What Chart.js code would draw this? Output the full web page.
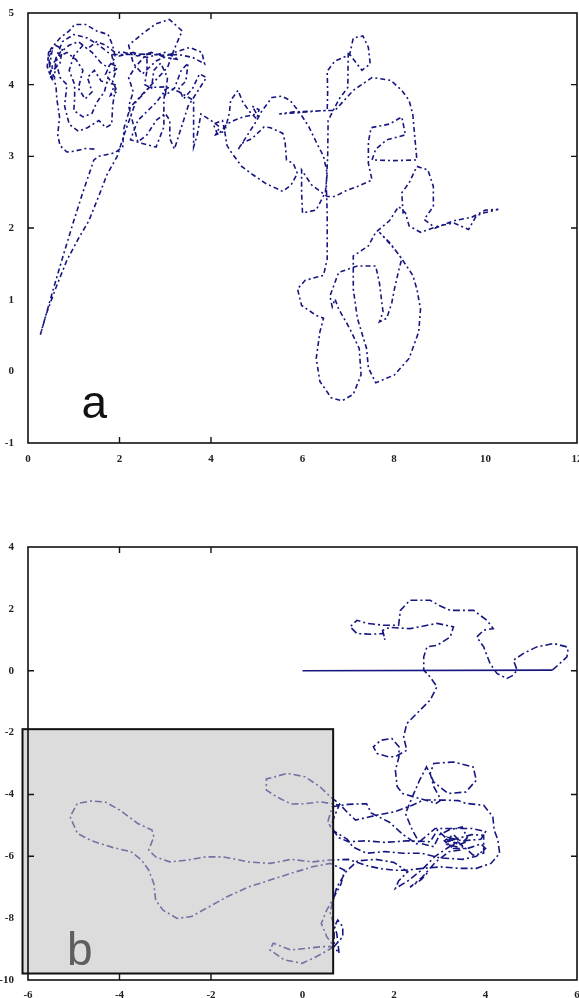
<!DOCTYPE html>
<html>
<head>
<meta charset="utf-8">
<script src="https://cdn.jsdelivr.net/npm/chart.js@4.4.0/dist/chart.umd.min.js"></script>
<style>
  body { margin: 0; background: #fff; width: 579px; height: 998px; overflow: hidden; position: relative; }
  canvas { position: absolute; left: 0; }
  #chartA { top: 0; }
  #chartB { top: 470px; }
</style>
</head>
<body>
<canvas id="chartA" width="579" height="470"></canvas>
<canvas id="chartB" width="579" height="528"></canvas>
<script>
// Tick labels
var aXTicks = [0, 2, 4, 6, 8, 10, 12];
var aYTicks = [-1, 0, 1, 2, 3, 4, 5];
var bXTicks = [-6, -4, -2, 0, 2, 4, 6];
var bYTicks = [-10, -8, -6, -4, -2, 0, 2, 4];

// inner tick marks that show up in the picture
var aXMarks = [2, 4];
var aYMarks = [2, 3, 4];
var bXMarks = [-4, -2];
var bYMarks = [-6, -4, 0];

// trajectory a (x, y)
var pathA = [
  [1.45,3.1],[1.26,3.11],[1.0,3.07],[0.85,3.06],[0.7,3.15],[0.65,3.3],[0.69,3.55],[0.63,3.8],[0.61,4.0],[0.5,4.1],
  [0.42,4.25],[0.45,4.45],[0.6,4.55],[0.75,4.5],[0.7,4.3],[0.55,4.2],[0.45,4.35],[0.5,4.5],[0.7,4.65],[0.9,4.75],
  [1.02,4.84],[1.26,4.84],[1.5,4.75],[1.75,4.7],[1.85,4.55],[1.91,4.38],[1.75,4.24],[1.6,4.3],[1.4,4.45],[1.2,4.55],
  [1.0,4.4],[0.9,4.2],[1.02,4.0],[1.02,3.8],[1.0,3.64],[1.2,3.55],[1.4,3.6],[1.5,3.75],[1.67,3.9],[1.75,4.1],
  [1.91,3.96],[1.85,3.7],[1.83,3.45],[1.7,3.4],[1.55,3.5],[1.3,3.4],[1.1,3.35],[0.9,3.45],[0.8,3.7],[0.85,4.0],
  [0.7,4.1],[0.6,4.35],[0.75,4.6],[1.0,4.7],[1.3,4.65],[1.55,4.55],[1.75,4.45],[1.83,4.42],
  [1.9,4.2],[1.7,4.15],[1.8,4.3],[1.95,4.25],[1.85,4.05],[1.95,3.9],[1.8,3.85],[1.9,4.0],[1.6,4.05],[1.45,4.2],
  [1.3,4.1],[1.4,3.9],[1.25,3.8],[1.1,3.95],[1.2,4.2],[1.05,4.35],[0.85,4.45],[0.7,4.4],[0.55,4.3],[0.48,4.15],
  [0.55,4.05],[0.47,4.25],[0.52,4.45],[0.44,4.38],[0.5,4.2],[0.58,4.1],[0.6,4.3],[0.7,4.45],[0.9,4.55],[1.1,4.6],
  [1.3,4.5],[1.5,4.6],[1.7,4.55],[1.9,4.45],[2.1,4.45],[2.4,4.4],[2.7,4.45],[3.0,4.38],[3.3,4.35],[3.0,4.45],
  [2.6,4.38],[2.3,4.45],[2.0,4.4],[1.83,4.42],
  [2.2,4.42],[2.6,4.43],
  [2.6,4.2],[2.55,4.0],[2.7,3.95],[2.75,4.2],[2.9,4.3],[3.05,4.1],[3.0,3.85],[3.2,3.95],[3.35,4.2],[3.5,4.3],
  [3.45,4.05],[3.3,3.95],[3.4,3.8],[3.6,3.95],[3.75,4.15],[3.9,4.1],[3.7,3.9],[3.5,3.7],[3.4,3.5],[3.3,3.3],
  [3.2,3.1],[3.1,3.25],[3.1,3.5],[3.0,3.6],[2.8,3.5],[2.6,3.3],[2.4,3.2],[2.3,3.45],[2.2,3.7],[2.3,3.9],
  [2.2,4.1],[2.35,4.25],[2.6,4.43],
  [2.9,4.41],[3.29,4.42],[3.6,4.38],[3.86,4.29],[3.8,4.45],[3.54,4.52],[3.2,4.45],[2.8,4.33],[2.5,4.15],[2.3,4.3],
  [2.2,4.55],[2.48,4.7],[2.8,4.85],[3.09,4.91],[3.37,4.75],[3.2,4.5],[3.05,4.24],[2.64,3.96],[2.24,3.69],[2.1,3.4],
  [2.07,3.13],[1.9,3.05],[1.55,3.0],[1.44,2.95],[1.2,2.5],[1.0,2.1],[0.8,1.68],[0.6,1.25],[0.42,0.85],[0.27,0.51],
  [0.4,0.8],[0.6,1.15],[0.85,1.55],[1.1,1.85],[1.33,2.1],[1.55,2.45],[1.73,2.75],[1.95,3.0],[2.1,3.3],[2.35,3.75],
  [2.65,3.96],[3.0,3.97],[2.97,3.78],[2.97,3.41],[2.8,3.13],[2.5,3.18],[2.24,3.23],[2.4,3.5],[2.8,3.75],[3.05,3.96],
  [3.3,3.9],[3.62,3.78],[3.62,3.45],[3.62,3.13],[3.7,3.3],[3.78,3.59],[4.0,3.5],[4.19,3.41],[4.1,3.3],[4.3,3.35],
  [4.25,3.5],[4.05,3.45],[4.15,3.3],[4.35,3.45],[4.5,3.5],[4.7,3.55],[5.0,3.59],[4.9,3.7],[5.05,3.65],[5.0,3.52],
  [4.85,3.62],[4.7,3.75],[4.59,3.92],[4.43,3.78],[4.4,3.6],[4.3,3.35],[4.35,3.15],[4.45,3.05],[4.67,2.86],[4.9,2.75],
  [5.2,2.62],[5.57,2.51],[5.75,2.6],[5.89,2.76],[5.8,2.9],[5.65,2.95],[5.62,3.2],[5.57,3.32],[5.3,3.4],[5.16,3.41],
  [5.08,3.36],[4.9,3.25],[4.67,3.18],[4.6,3.1],[4.8,3.3],[5.0,3.5],[5.1,3.62],[5.33,3.82],[5.55,3.84],[5.73,3.78],
  [5.95,3.6],[6.14,3.41],[6.3,3.2],[6.46,3.0],[6.54,2.76],[6.5,2.5],[6.3,2.25],[6.0,2.21],[5.98,2.5],[5.98,2.81],
  [6.2,2.6],[6.54,2.44],[6.71,2.44],[6.95,2.52],[7.2,2.58],[7.52,2.67],[7.44,2.9],[7.44,3.2],[7.5,3.4],[7.9,3.45],
  [8.17,3.55],[8.25,3.3],[7.84,3.23],[7.6,3.1],[7.52,2.95],[8.0,2.94],[8.5,2.95],[8.45,3.3],[8.41,3.59],[8.33,3.78],
  [8.17,3.92],[7.93,4.06],[7.52,4.1],[7.11,3.92],[6.71,3.64],[6.54,3.64],[6.1,3.62],[5.7,3.6],[5.49,3.59],[5.8,3.62],
  [6.2,3.63],[6.54,3.64],[6.55,3.9],[6.54,4.19],[6.71,4.33],[7.03,4.42],[7.11,4.65],[7.32,4.68],[7.44,4.52],[7.48,4.29],
  [7.3,4.2],[7.0,4.45],[6.99,3.96],[6.8,3.8],[6.56,3.5],[6.55,3.0],[6.52,2.6],[6.54,2.2],[6.54,1.8],[6.54,1.57],
  [6.46,1.34],[6.06,1.27],[5.89,1.15],[5.98,0.92],[6.3,0.78],[6.46,0.74],[6.38,0.55],[6.3,0.18],[6.38,-0.14],[6.63,-0.37],
  [6.87,-0.41],[7.11,-0.32],[7.28,-0.05],[7.24,0.32],[7.03,0.6],[6.79,0.87],[6.71,1.01],[6.65,0.9],[6.6,1.05],[6.79,1.38],
  [7.2,1.47],[7.6,1.47],[7.68,1.24],[7.76,0.83],[7.68,0.69],[7.84,0.74],[7.95,0.95],[8.01,1.15],[8.1,1.4],[8.17,1.57],
  [8.01,1.71],[7.68,1.94],[7.9,1.8],[8.17,1.57],[8.41,1.34],[8.5,1.15],[8.58,0.87],[8.54,0.55],[8.33,0.18],[8.01,-0.05],
  [7.6,-0.16],[7.44,0.05],[7.4,0.32],[7.2,0.74],[7.11,1.15],[7.11,1.38],[7.11,1.61],[7.44,1.75],[7.6,1.94],[7.9,2.1],
  [8.1,2.3],[8.25,2.21],[8.33,2.03],[8.58,1.94],[8.98,2.03],[9.31,2.07],[9.63,1.98],[9.8,2.17],[9.96,2.21],[10.28,2.26],
  [10.0,2.25],[9.7,2.15],[9.3,2.1],[8.9,2.0],[8.66,2.12],[8.86,2.3],[8.86,2.58],[8.74,2.81],[8.5,2.86],[8.33,2.63],
  [8.17,2.49],[8.2,2.2]
];

// trajectory b: straight run from the origin, then the dashed walk
var runB = [[0,0],[5.46,0.02]];
var pathB = [
  [5.46,0.02],[5.6,0.2],[5.78,0.45],[5.8,0.65],[5.78,0.77],[5.49,0.88],[5.12,0.77],[4.83,0.56],[4.61,0.34],[4.69,0.02],
  [4.6,-0.15],[4.47,-0.25],[4.25,-0.09],[4.1,0.23],[3.96,0.77],[3.81,1.09],[3.96,1.31],[4.17,1.36],[4.03,1.63],[3.74,1.95],
  [3.5,1.95],[3.23,1.95],[3.0,2.1],[2.79,2.28],[2.35,2.28],[2.14,1.95],[2.1,1.47],[1.77,1.47],[1.41,1.53],[1.19,1.63],
  [1.04,1.42],[1.19,1.2],[1.5,1.18],[1.77,1.2],[1.8,1.0],[1.75,1.3],[1.9,1.4],[2.35,1.36],[2.94,1.53],[3.3,1.42],
  [3.23,1.09],[2.94,0.82],[2.72,0.77],[2.65,0.45],[2.65,0.02],[2.79,-0.2],[2.94,-0.52],[2.79,-0.95],[2.5,-1.38],[2.28,-1.71],
  [2.21,-2.14],[2.28,-2.57],[2.03,-2.78],[1.87,-2.78],[1.63,-2.68],[1.55,-2.46],[1.71,-2.25],[1.95,-2.19],[2.11,-2.46],[2.11,-2.78],
  [2.03,-3.22],[2.07,-3.75],[2.19,-3.97],[2.43,-4.08],[2.68,-4.18],[2.92,-4.29],[3.03,-4.18],[2.87,-3.75],[2.79,-3.32],[2.87,-3.0],
  [3.3,-2.95],[3.73,-3.11],[3.8,-3.54],[3.57,-3.92],[3.18,-3.97],[2.87,-3.6],[2.71,-3.11],[2.56,-3.54],[2.4,-4.08],[2.25,-4.62],
  [2.4,-5.15],[2.56,-5.58],[2.87,-5.69],[3.0,-5.3],[3.2,-5.15],[3.49,-5.05],[3.6,-5.4],[3.4,-5.7],[3.1,-5.6],[3.26,-5.4],
  [3.45,-5.6],[3.73,-5.96],[3.96,-5.9],[3.96,-5.32],[3.7,-5.3],[3.2,-5.5],[2.95,-5.15],[2.79,-5.53],[2.3,-5.5],[1.8,-5.55],
  [1.4,-5.5],[1.0,-5.53],[0.8,-5.4],[0.61,-5.05],[0.7,-4.7],[0.8,-4.35],[0.69,-4.31],[0.38,-4.24],[0.06,-4.3],[-0.25,-4.31],
  [-0.56,-4.08],[-0.79,-3.86],[-0.79,-3.5],[-0.33,-3.32],[0.06,-3.43],[0.38,-3.75],[0.61,-4.08],[0.8,-4.3],[1.0,-4.61],[1.16,-4.83],
  [1.62,-4.67],[2.01,-4.56],[2.4,-4.35],[2.64,-4.18],[3.03,-4.18],[3.41,-4.2],[3.57,-4.29],[3.96,-4.35],[4.16,-4.72],[4.19,-5.15],
  [4.27,-5.47],[4.31,-5.9],[4.12,-6.23],[3.8,-6.39],[3.41,-6.39],[3.03,-6.34],[2.64,-6.39],[2.25,-6.45],[2.01,-6.45],[1.7,-6.4],
  [1.4,-6.3],[1.0,-6.1],[0.61,-6.12],[0.22,-6.18],[-0.25,-6.1],[-0.71,-6.23],[-1.18,-6.18],[-1.73,-6.02],[-2.12,-6.02],[-2.5,-6.12],
  [-2.9,-6.18],[-3.21,-6.02],[-3.36,-5.8],[-3.25,-5.37],[-3.29,-5.15],[-3.6,-4.94],[-3.99,-4.51],[-4.3,-4.25],[-4.61,-4.21],[-4.92,-4.29],
  [-5.08,-4.72],[-4.92,-5.26],[-4.61,-5.5],[-4.14,-5.72],[-3.75,-5.85],[-3.52,-6.12],[-3.36,-6.45],[-3.25,-6.88],[-3.21,-7.42],[-3.05,-7.74],
  [-2.74,-8.01],[-2.43,-7.95],[-2.04,-7.63],[-1.65,-7.31],[-1.18,-6.99],[-0.71,-6.77],[-0.25,-6.55],[0.22,-6.34],[0.61,-6.23],[0.92,-6.45],
  [0.84,-6.9],[0.69,-7.31],[0.53,-7.74],[0.41,-8.17],[0.53,-8.6],[0.69,-8.92],[0.88,-8.6],[0.88,-8.28],[0.77,-8.06],[0.69,-8.3],
  [0.69,-8.92],[0.3,-9.25],[-0.01,-9.46],[-0.4,-9.35],[-0.71,-9.03],[-0.64,-8.81],[-0.25,-9.03],[0.06,-8.98],[0.45,-8.92],[0.69,-8.92],
  [0.8,-9.14],[0.75,-8.5],[0.6,-7.8],[0.75,-7.0],[0.95,-6.5],[1.2,-6.15],[1.6,-6.1],[2.0,-6.2],[2.3,-6.5],[2.1,-6.8],
  [2.03,-7.04],[2.3,-6.8],[2.6,-6.45],[2.9,-6.0],[3.2,-5.7],[3.4,-5.45],[3.3,-5.3],[3.1,-5.5],[3.3,-5.75],[3.6,-5.75],
  [3.9,-5.6],[4.0,-5.75],[3.8,-6.0],[3.5,-6.1],[3.0,-6.05],[2.6,-5.9],[2.2,-5.9],[1.8,-5.85],[1.4,-5.9],[1.1,-5.7],
  [0.98,-5.45],[0.7,-5.2],[0.55,-4.9],[0.65,-4.4],[1.0,-4.32],[1.4,-4.3],[1.5,-4.6],[1.9,-4.9],[2.2,-5.3],[2.5,-5.6],
  [2.9,-5.1],[3.3,-5.1],[3.7,-5.1],[4.0,-5.2],[3.9,-5.45],[3.5,-5.5],[3.2,-5.4],[3.35,-5.55],[3.25,-5.7],[3.15,-5.55],
  [3.3,-5.45],[3.4,-5.65],[3.55,-5.55],[3.45,-5.8],[3.2,-5.85],[2.9,-6.2],[2.6,-6.7],[2.35,-7.0],[2.6,-6.75],[2.75,-6.5]
];

// shaded box in b and the panel letters
var boxB = { x1: -6.12, x2: 0.67, y1: -1.89, y2: -9.79 };
var letterA = { text: 'a', x: 1.45, y: -0.65 };
var letterB = { text: 'b', x: -4.87, y: -9.52 };

var lineColor = 'rgb(22,22,128)';
var tickFont = { family: 'Liberation Serif', size: 11, weight: 'bold' };

function toXY(list) {
  return list.map(function(p) { return { x: p[0], y: p[1] }; });
}

function trackSet(list, dash) {
  return {
    data: toXY(list),
    showLine: true,
    borderColor: lineColor,
    borderWidth: 1.6,
    borderDash: dash,
    pointRadius: 0,
    fill: false,
    tension: 0
  };
}

var framePlugin = {
  id: 'frame',
  afterDatasetsDraw: function(chart, args, opts) {
    var ctx = chart.ctx;
    var area = chart.chartArea;
    var xs = chart.scales.x;
    var ys = chart.scales.y;
    ctx.save();

    if (opts.box) {
      var bx1 = xs.getPixelForValue(opts.box.x1);
      var bx2 = xs.getPixelForValue(opts.box.x2);
      var by1 = ys.getPixelForValue(opts.box.y1);
      var by2 = ys.getPixelForValue(opts.box.y2);
      ctx.fillStyle = 'rgba(192,192,192,0.55)';
      ctx.fillRect(bx1, by1, bx2 - bx1, by2 - by1);
      ctx.strokeStyle = '#111';
      ctx.lineWidth = 2;
      ctx.strokeRect(bx1, by1, bx2 - bx1, by2 - by1);
    }

    if (opts.letter) {
      ctx.font = '46px "Liberation Sans"';
      ctx.textAlign = 'center';
      ctx.textBaseline = 'alphabetic';
      ctx.fillStyle = opts.letterColor;
      ctx.fillText(opts.letter.text, xs.getPixelForValue(opts.letter.x), ys.getPixelForValue(opts.letter.y));
    }

    ctx.strokeStyle = '#111';
    ctx.lineWidth = 1.6;
    ctx.strokeRect(area.left, area.top, area.right - area.left, area.bottom - area.top);

    ctx.lineWidth = 1.4;
    ctx.beginPath();
    opts.xMarks.forEach(function(v) {
      var px = xs.getPixelForValue(v);
      ctx.moveTo(px, area.bottom); ctx.lineTo(px, area.bottom - 6);
      ctx.moveTo(px, area.top); ctx.lineTo(px, area.top + 6);
    });
    opts.yMarks.forEach(function(v) {
      var py = ys.getPixelForValue(v);
      ctx.moveTo(area.left, py); ctx.lineTo(area.left + 6, py);
      ctx.moveTo(area.right, py); ctx.lineTo(area.right - 6, py);
    });
    ctx.stroke();
    ctx.restore();
  }
};

function makeChart(id, datasets, xr, yr, xTicks, yTicks, pad, xHeight, xPad, frameOpts) {
  return new Chart(document.getElementById(id), {
    type: 'scatter',
    data: { datasets: datasets },
    plugins: [framePlugin],
    options: {
      responsive: false,
      animation: false,
      devicePixelRatio: 1,
      layout: { padding: pad },
      plugins: { legend: { display: false }, tooltip: { enabled: false }, frame: frameOpts },
      scales: {
        x: {
          type: 'linear', min: xr[0], max: xr[1],
          grid: { display: false }, border: { display: false },
          afterBuildTicks: function(s) { s.ticks = xTicks.map(function(v) { return { value: v }; }); },
          afterFit: function(s) { s.height = xHeight; s.paddingLeft = 0; s.paddingRight = 0; },
          ticks: { autoSkip: false, maxRotation: 0, padding: xPad, font: tickFont, color: '#222' }
        },
        y: {
          type: 'linear', min: yr[0], max: yr[1],
          grid: { display: false }, border: { display: false },
          afterBuildTicks: function(s) { s.ticks = yTicks.map(function(v) { return { value: v }; }); },
          afterFit: function(s) { s.width = 28; s.paddingTop = 0; s.paddingBottom = 0; },
          ticks: { autoSkip: false, padding: 6, font: tickFont, color: '#222' }
        }
      }
    }
  });
}

makeChart('chartA', [trackSet(pathA, [5, 3, 2, 3])], [0, 12], [-1, 5], aXTicks, aYTicks,
  { top: 13, right: 2, left: 0, bottom: 0 }, 27, 2,
  { xMarks: aXMarks, yMarks: aYMarks, letter: letterA, letterColor: '#111' });

makeChart('chartB', [trackSet(runB, []), trackSet(pathB, [7, 3, 2, 3])], [-6, 6], [-10, 4], bXTicks, bYTicks,
  { top: 77, right: 2, left: 0, bottom: 0 }, 18, 1,
  { xMarks: bXMarks, yMarks: bYMarks, box: boxB, letter: letterB, letterColor: '#5e5e5e' });
</script>
</body>
</html>
